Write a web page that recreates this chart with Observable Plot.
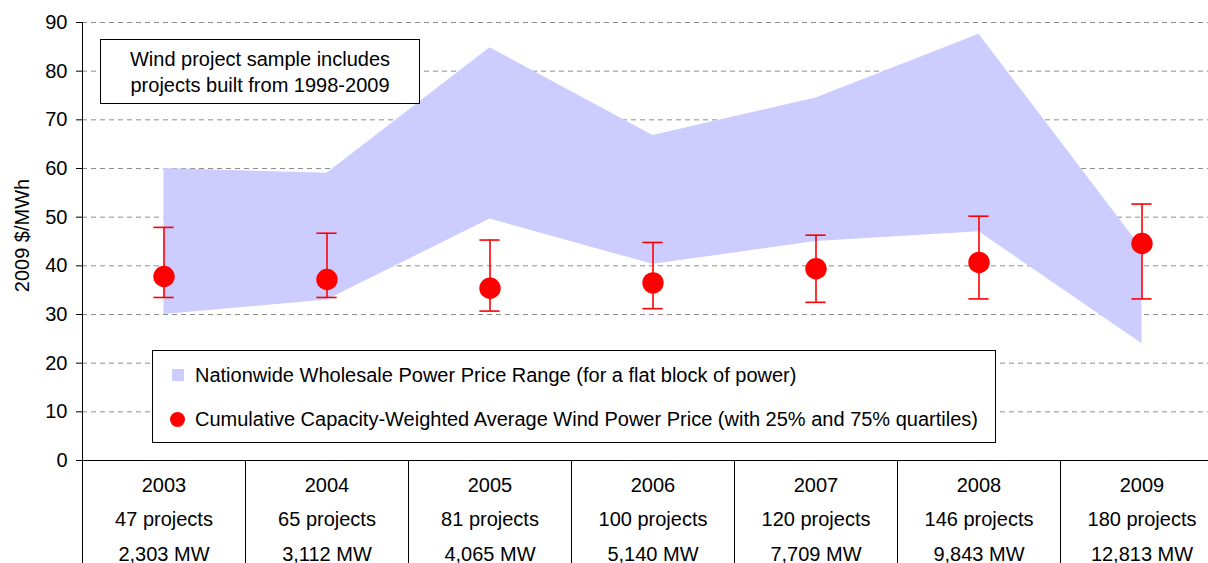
<!DOCTYPE html>
<html><head><meta charset="utf-8">
<script src="https://cdn.jsdelivr.net/npm/d3@7"></script>
<script src="https://cdn.jsdelivr.net/npm/@observablehq/plot@0.6"></script>
<style>
html,body{margin:0;padding:0;background:#fff;}
body{font-family:"Liberation Sans",Arial,sans-serif;color:#000;}
#wrap{position:relative;width:1208px;height:563px;overflow:hidden;}
#wrap svg{display:block;}
.note{position:absolute;left:100px;top:39px;width:320px;height:65px;box-sizing:border-box;border:1.5px solid #000;background:#fff;font-size:20px;line-height:26px;text-align:center;padding-top:6px;}
.legend{position:absolute;left:152px;top:350px;width:844px;height:93px;box-sizing:border-box;border:1.3px solid #000;background:#fff;font-size:20px;}
.legend .row{position:absolute;left:0;height:24px;line-height:24px;white-space:nowrap;}
.legend .sw{position:absolute;left:19px;top:6px;width:12px;height:12px;background:#ccccff;}
.legend .ci{position:absolute;left:17px;top:5px;width:15px;height:15px;border-radius:50%;background:#ff0000;}
.legend .tx{position:absolute;left:42px;top:0;}
</style></head><body><div id="wrap"></div>
<script>
// ---- data ----
const years = ["2003", "2004", "2005", "2006", "2007", "2008", "2009"];
const projects = [47, 65, 81, 100, 120, 146, 180];
const capacityMW = [2303, 3112, 4065, 5140, 7709, 9843, 12813];
const wholesaleLow = [30, 33, 49.6, 40.3, 45, 47, 24];
const wholesaleHigh = [60, 59, 84.8, 66.8, 74.5, 87.6, 43.5];
const windAvg = [37.8, 37.2, 35.4, 36.5, 39.4, 40.7, 44.6];
const windQ25 = [33.5, 33.5, 30.7, 31.2, 32.5, 33.2, 33.2];
const windQ75 = [47.9, 46.7, 45.3, 44.8, 46.3, 50.2, 52.7];
const yTicks = [0, 10, 20, 30, 40, 50, 60, 70, 80, 90];
const yLabel = "2009 $/MWh";
const noteLines = ["Wind project sample includes", "projects built from 1998-2009"];
const legendWholesale = "Nationwide Wholesale Power Price Range (for a flat block of power)";
const legendWind = "Cumulative Capacity-Weighted Average Wind Power Price (with 25% and 75% quartiles)";

// ---- build table ----
const rows = years.map((year, i) => ({
  i, year, projects: projects[i], mw: capacityMW[i],
  low: wholesaleLow[i], high: wholesaleHigh[i],
  avg: windAvg[i], q25: windQ25[i], q75: windQ75[i]
}));
const boundaries = d3.range(-0.5, years.length, 1);
const cap = 0.062; // half width of error-bar caps, in band units
const fmt = d3.format(",");
const RED = "#ff0000";

const chart = Plot.plot({
  width: 1208,
  height: 563,
  marginLeft: 82,
  marginRight: 0,
  marginTop: 22,
  marginBottom: 103,
  style: {fontFamily: "'Liberation Sans', Arial, sans-serif", fontSize: "20px", color: "#000", background: "#fff"},
  x: {domain: [-0.5, years.length - 0.5], range: [82, 1223]},
  y: {domain: [0, 90]},
  marks: [
    Plot.gridY(yTicks.filter(t => t > 0), {stroke: "#8c8c8c", strokeOpacity: 1, strokeDasharray: "5,4"}),
    Plot.areaY(rows, {x: "i", y1: "low", y2: "high", fill: "#ccccff", curve: "linear"}),
    Plot.ruleX(rows, {x: "i", y1: "q25", y2: "q75", stroke: RED, strokeWidth: 1.6}),
    Plot.ruleY(rows, {y: "q25", x1: d => d.i - cap, x2: d => d.i + cap, stroke: RED, strokeWidth: 1.6}),
    Plot.ruleY(rows, {y: "q75", x1: d => d.i - cap, x2: d => d.i + cap, stroke: RED, strokeWidth: 1.6}),
    Plot.dot(rows, {x: "i", y: "avg", r: 10.7, fill: RED, stroke: null}),
    Plot.axisY(yTicks, {tickSize: 6, tickPadding: 9, label: null, stroke: "#000", fontSize: 20}),
    Plot.ruleX([-0.5], {y1: 0, y2: 90, stroke: "#000"}),
    Plot.ruleY([0], {stroke: "#000"}),
    Plot.axisX(boundaries, {tickSize: 120, text: null, stroke: "#000", label: null}),
    Plot.text(rows, {
      x: "i",
      text: d => `${d.year}\n${d.projects} projects\n${fmt(d.mw)} MW`,
      frameAnchor: "bottom", lineAnchor: "top", dy: 7, lineHeight: 1.725,
      fontSize: 20, fill: "#000"
    }),
    Plot.text([yLabel], {frameAnchor: "left", textAnchor: "middle", rotate: -90, dx: -60, dy: -6, fontSize: 20, fill: "#000"})
  ]
});
const wrap = document.getElementById("wrap");
wrap.appendChild(chart);

const note = document.createElement("div");
note.className = "note";
note.innerHTML = noteLines.join("<br>");
wrap.appendChild(note);

const legend = document.createElement("div");
legend.className = "legend";
legend.innerHTML =
  `<div class="row" style="top:12px"><div class="sw"></div><div class="tx">${legendWholesale}</div></div>` +
  `<div class="row" style="top:56px"><div class="ci"></div><div class="tx">${legendWind}</div></div>`;
wrap.appendChild(legend);
</script>
</body></html>
